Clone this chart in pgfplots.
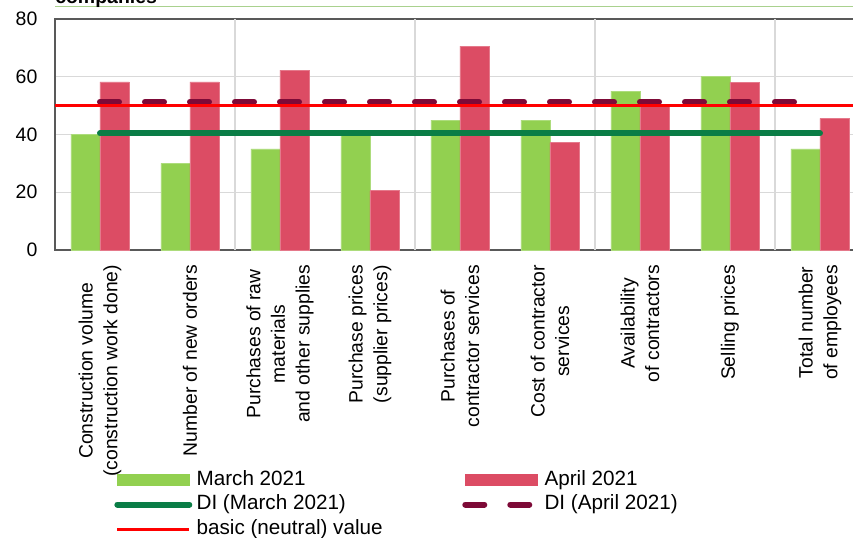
\documentclass[border=0pt]{standalone}
\usepackage{pgfplots}
\pgfplotsset{compat=1.18}
\usepackage{fontspec}
\setmainfont{Liberation Sans}
\definecolor{mgreen}{HTML}{92D050}
\definecolor{mred}{HTML}{DC4C64}
\definecolor{digreen}{HTML}{0A7D46}
\definecolor{dimaroon}{HTML}{7D0A37}
\definecolor{neutralred}{HTML}{FF0000}
\definecolor{gridgray}{HTML}{D9D9D9}
\definecolor{axisgray}{HTML}{595959}
\definecolor{titlegreen}{HTML}{A9D18E}
\begin{document}
\begin{tikzpicture}
\begin{axis}[
  name=ax, at={(0,0)}, anchor=south west,
  scale only axis, width=607.5pt, height=173.25pt,
  xmin=-0.5, xmax=8.5, ymin=0, ymax=80,
  ytick={0,20,40,60,80},
  xtick={0,1,2,3,4,5,6,7,8},
  xticklabels={{Construction volume\\(construction work done)},
    {Number of new orders},
    {Purchases of raw\\materials\\and other supplies},
    {Purchase prices\\(supplier prices)},
    {Purchases of\\contractor services},
    {Cost of contractor\\services},
    {Availability\\of contractors},
    {Selling prices},
    {Total number\\of employees}},
  xticklabel style={rotate=90, anchor=east, align=center, inner sep=0pt,
    font=\fontsize{14.5}{18.4}\selectfont},
  xticklabel shift=11pt,
  yticklabel style={inner sep=0pt, font=\fontsize{14.6}{17}\selectfont},
  yticklabel shift=13pt,
  /pgf/number format/assume math mode=true,
  ymajorgrids,
  grid style={color=gridgray, line width=1.1pt},
  extra x ticks={1.5,3.5,5.5,7.5},
  extra x tick labels={},
  extra x tick style={grid=major},
  major tick length=0pt,
  axis line style={color=axisgray, line width=1.5pt},
  legend columns=2,
  legend cell align=left,
  legend style={at={(0,0)}, anchor=north west, xshift=44.5pt, yshift=-164.3pt,
    draw=none, fill=none, inner sep=0pt, outer sep=0pt, row sep=2.6pt,
    nodes={inner sep=0pt, text height=12pt, text depth=4pt, font=\fontsize{15.5}{18}\selectfont},
    /tikz/every odd column/.style={column sep=3.2pt},
    /tikz/column 2/.style={column sep=59.7pt}},
]
\addplot[ybar, bar width=21.75pt, bar shift=-10.875pt, fill=mgreen, draw=mgreen!75!white, line width=0.5pt,
  legend image code/.code={\fill[mgreen] (0pt,-4.1pt) rectangle (54pt,4.1pt);}]
  coordinates {(0,40) (1,30) (2,35) (3,40) (4,45) (5,45) (6,55) (7,60) (8,35)};
\addlegendentry{March 2021}
\addplot[ybar, bar width=21.75pt, bar shift=10.875pt, fill=mred, draw=mred!75!white, line width=0.5pt,
  legend image code/.code={\fill[mred] (0pt,-4.1pt) rectangle (54pt,4.1pt);}]
  coordinates {(0,58.2) (1,58.2) (2,62.3) (3,20.5) (4,70.6) (5,37.2) (6,49.9) (7,58.1) (8,45.6)};
\addlegendentry{April 2021}
\addplot[color=digreen, line width=4.5pt, line cap=round, mark=none,
  legend image code/.code={\draw[color=digreen, line width=4.5pt, line cap=round] (0pt,0pt) -- (54pt,0pt);}]
  coordinates {(0,40.4) (8,40.4)};
\addlegendentry{DI (March 2021)}
\addplot[color=dimaroon, line width=4.5pt, line cap=round, dash pattern=on 14.25pt off 19.5pt, mark=none,
  legend image code/.code={\draw[color=dimaroon, line width=4.5pt, line cap=round, dash pattern=on 14.25pt off 19.5pt] (0pt,0pt) -- (54pt,0pt);}]
  coordinates {(0,51.4) (8,51.4)};
\addlegendentry{DI (April 2021)}
\addplot[color=neutralred, line width=2pt, mark=none,
  legend image code/.code={\draw[color=neutralred, line width=2pt] (0pt,0pt) -- (54pt,0pt);}]
  coordinates {(-0.5,50) (8.5,50)};
\addlegendentry{basic (neutral) value}
\end{axis}
\pgfresetboundingbox
\useasboundingbox (-41.25pt,-215.25pt) rectangle (598.5pt,187.5pt);
\draw[color=titlegreen, line width=1pt] (0pt,182.6pt) -- (620pt,182.6pt);
\node[anchor=base west, inner sep=0pt, font=\bfseries\fontsize{14.6}{17}\selectfont] at (0pt,185.25pt) {companies};
\end{tikzpicture}
\end{document}
